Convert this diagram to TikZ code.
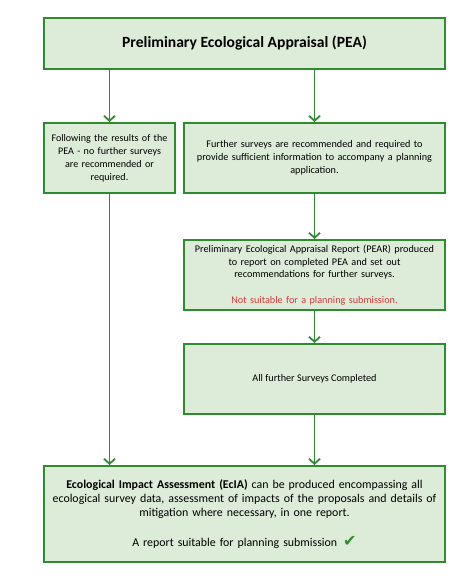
\documentclass[tikz,border=0pt]{standalone}
\usepackage{fontspec}
\setmainfont{Carlito}
\newfontfamily\symfont{DejaVu Sans}
\usetikzlibrary{arrows.meta,positioning}

\definecolor{boxline}{HTML}{2F8A30}
\definecolor{boxfill}{HTML}{DCECD9}
\definecolor{warnred}{HTML}{D23B3B}

\tikzset{
  stage/.style={draw=boxline,fill=boxfill,line width=2pt,anchor=north west,align=center,inner sep=0pt},
  flow/.style={draw=boxline,line width=1.8pt,-{Straight Barb[length=5pt,width=11pt]}}
}

\begin{document}
\begin{tikzpicture}[x=1pt,y=-1pt]
\useasboundingbox[fill=white] (0,0) rectangle (474,582);

\node[stage,minimum width=401pt,minimum height=51pt,font=\fontsize{15.6}{18}\selectfont\bfseries](pea) at (43,17)
  {Preliminary Ecological Appraisal (PEA)};

\node[stage,minimum width=131pt,minimum height=70pt,text width=127pt,font=\fontsize{10.1}{13}\selectfont](nosurvey) at (43,122)
  {Following the results of the\\PEA - no further surveys\\are recommended or\\required.};

\node[stage,minimum width=261pt,minimum height=70pt,text width=255pt,font=\fontsize{10.2}{13}\selectfont](further) at (183,122)
  {Further surveys are recommended and required to\\provide sufficient information to accompany a planning\\application.};

\node[stage,minimum width=261pt,minimum height=70pt,text width=255pt,font=\fontsize{10.2}{12.8}\selectfont](pear) at (183,239)
  {Preliminary Ecological Appraisal Report (PEAR) produced\\to report on completed PEA and set out\\recommendations for further surveys.\\[12.8pt]
   \textcolor{warnred}{Not suitable for a planning submission.}};

\node[stage,minimum width=261pt,minimum height=70pt,font=\fontsize{10.2}{13}\selectfont](done) at (183,343)
  {All further Surveys Completed};

\node[stage,minimum width=401pt,minimum height=96pt,text width=396pt,font=\fontsize{11.9}{14}\selectfont](ecia) at (43,465)
  {\textbf{Ecological Impact Assessment (EcIA)} can be produced encompassing all\\ecological survey data, assessment of impacts of the proposals and details of\\mitigation where necessary, in one report.\\[16pt]
   A report suitable for planning submission\enspace{\symfont\fontsize{16}{16}\selectfont\textcolor{boxline}{✔}}};

\draw[flow] (pea.south -| nosurvey.north) -- (nosurvey.north);
\draw[flow] (pea.south -| further.north) -- (further.north);
\draw[flow] (further.south) -- (pear.north);
\draw[flow] (pear.south) -- (done.north);
\draw[flow] (nosurvey.south) -- (nosurvey.south |- ecia.north);
\draw[flow] (done.south) -- (done.south |- ecia.north);
\end{tikzpicture}
\end{document}
